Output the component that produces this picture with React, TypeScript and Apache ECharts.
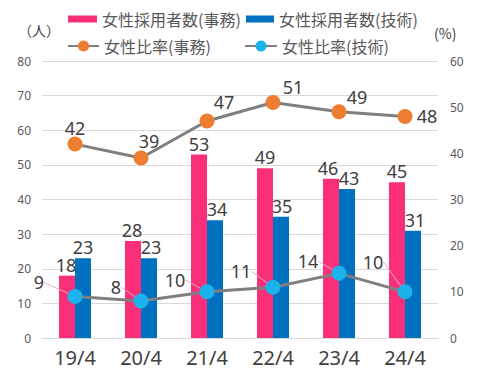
import React, { useEffect, useRef } from "react";
import * as echarts from "echarts";

const categories = ["19/4", "20/4", "21/4", "22/4", "23/4", "24/4"];
const hiresOffice = [18, 28, 53, 49, 46, 45];
const hiresTech = [23, 23, 34, 35, 43, 31];
const rateOffice = [42, 39, 47, 51, 49, 48];
const rateTech = [9, 8, 10, 11, 14, 10];
const leftTicks = { min: 0, max: 80, interval: 10 };
const rightTicks = { min: 0, max: 60, interval: 10 };

const officeLabelOffsets = [[0, -16], [8, -17], [17, -19], [20, -16], [18, -15], [22, 0]];
const techLabelOffsets = [[-36, -14], [-25, -14], [-32, -12], [-32, -16], [-31, -12], [-32, -30]];
const officeBarLabelDx = [-1, -1, 0, 0, -3, 0];
const techBarLabelDx = [0, 2, 2, 1, 2, 2];

const NAMES = ["女性採用者数(事務)", "女性採用者数(技術)", "女性比率(事務)", "女性比率(技術)"];
const FONT = "'Noto Sans', 'Noto Sans CJK JP', sans-serif";
const CJK = "'Noto Sans CJK JP', 'Noto Sans', sans-serif";

export default function App() {
  const ref = useRef<HTMLDivElement>(null);
  useEffect(() => {
    if (!ref.current) return;
    const chart = echarts.init(ref.current, null, { renderer: "svg" });
    const legendText = { fontSize: 16, color: "#595959", fontFamily: CJK };
    const dataLabel = { fontSize: 18, color: "#404040", fontFamily: FONT };
    chart.setOption({
      animation: false,
      backgroundColor: "#ffffff",
      legend: [
        { data: [NAMES[0]], left: 68, top: 11, padding: 0, itemWidth: 29, itemHeight: 7, icon: "rect", textStyle: legendText },
        { data: [NAMES[1]], left: 246, top: 11, padding: 0, itemWidth: 28, itemHeight: 7, icon: "rect", textStyle: legendText },
        { data: [NAMES[2]], left: 67, top: 38, padding: 0, itemWidth: 31, itemHeight: 14, textStyle: legendText },
        { data: [NAMES[3]], left: 244, top: 38, padding: 0, itemWidth: 32, itemHeight: 14, textStyle: legendText },
      ],
      graphic: [
        { type: "text", left: 18, top: 23, style: { text: "（人）", fontSize: 14, fill: "#404040", fontFamily: CJK } },
        { type: "text", left: 434, top: 26, style: { text: "(%)", fontSize: 14, fill: "#404040", fontFamily: CJK } },
      ],
      grid: { left: 42, right: 42, top: 61, bottom: 48, containLabel: false },
      xAxis: {
        type: "category",
        data: categories,
        axisTick: { show: false },
        axisLine: { lineStyle: { color: "#D9D9D9", width: 1 } },
        axisLabel: { fontSize: 20, color: "#404040", margin: 9, fontFamily: FONT },
      },
      yAxis: [
        {
          type: "value",
          ...leftTicks,
          axisLine: { show: false },
          axisTick: { show: false },
          splitLine: { lineStyle: { color: "#D9D9D9", width: 1 } },
          axisLabel: { fontSize: 12, color: "#595959", margin: 11, fontFamily: FONT },
        },
        {
          type: "value",
          ...rightTicks,
          axisLine: { show: false },
          axisTick: { show: false },
          splitLine: { show: false },
          axisLabel: { fontSize: 12, color: "#595959", margin: 12, fontFamily: FONT },
        },
      ],
      series: [
        {
          name: NAMES[0],
          type: "bar",
          data: hiresOffice,
          barWidth: 16,
          barGap: "0%",
          itemStyle: { color: "#FA2F7A" },
          label: { show: true, position: "top", distance: 2, ...dataLabel },
          labelLayout: (p: any) => ({ dx: officeBarLabelDx[p.dataIndex] }),
        },
        {
          name: NAMES[1],
          type: "bar",
          data: hiresTech,
          barWidth: 16,
          barGap: "0%",
          itemStyle: { color: "#0070C0" },
          label: { show: true, position: "top", distance: 2, ...dataLabel },
          labelLayout: (p: any) => ({ dx: techBarLabelDx[p.dataIndex] }),
        },
        {
          name: NAMES[2],
          type: "line",
          yAxisIndex: 1,
          data: rateOffice,
          symbol: "circle",
          symbolSize: 15,
          z: 5,
          lineStyle: { color: "#7F7F7F", width: 3 },
          itemStyle: { color: "#ED7D31" },
          label: { show: true, position: "inside", ...dataLabel },
          labelLayout: (p: any) => ({ dx: officeLabelOffsets[p.dataIndex][0], dy: officeLabelOffsets[p.dataIndex][1] }),
        },
        {
          name: NAMES[3],
          type: "line",
          yAxisIndex: 1,
          data: rateTech,
          symbol: "circle",
          symbolSize: 15,
          z: 5,
          lineStyle: { color: "#7F7F7F", width: 3 },
          itemStyle: { color: "#1CB2EC" },
          label: { show: true, position: "inside", ...dataLabel },
          labelLine: { show: true, lineStyle: { color: "#F0A8BE", width: 1 } },
          labelLayout: (p: any) => ({ dx: techLabelOffsets[p.dataIndex][0], dy: techLabelOffsets[p.dataIndex][1] }),
        },
      ],
    });
    return () => chart.dispose();
  }, []);
  return <div ref={ref} style={{ width: 480, height: 386, position: "absolute", left: 0, top: 0 }} />;
}
